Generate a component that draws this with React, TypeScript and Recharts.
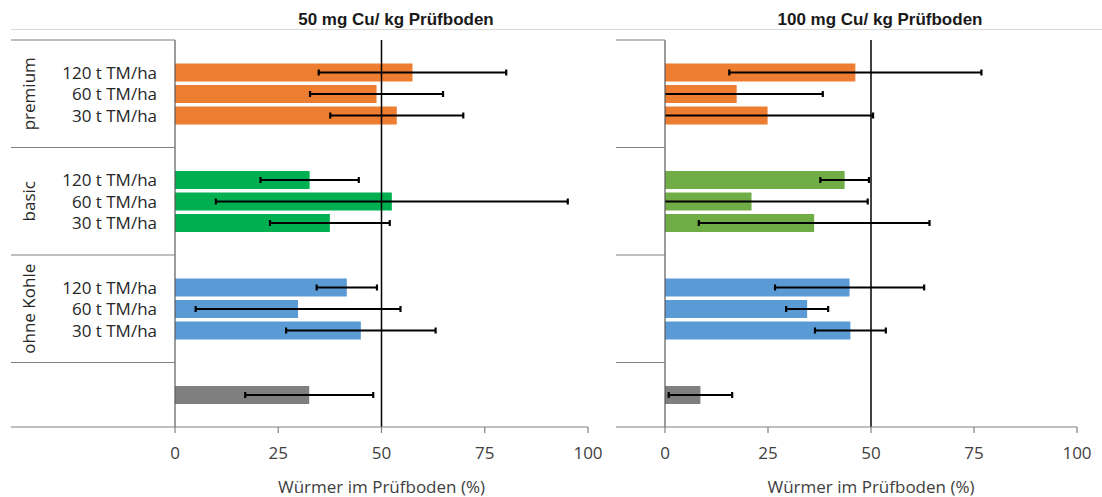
import React from "react";
import { BarChart, Bar, XAxis, YAxis, ErrorBar, ReferenceLine, Cell, Label } from "recharts";

const groups = ["premium", "basic", "ohne Kohle"];
const rates = ["120 t TM/ha", "60 t TM/ha", "30 t TM/ha"];
const xTicks = [0, 25, 50, 75, 100];

// 50 mg Cu/kg Prüfboden: Mittelwert und Streuung je Gruppe (120, 60, 30 t TM/ha)
const mean50 = [
  [57.5, 48.8, 53.7],
  [32.6, 52.5, 37.5],
  [41.6, 29.8, 45.0],
];
const err50 = [
  [22.7, 16.1, 16.1],
  [11.9, 42.6, 14.5],
  [7.3, 24.8, 18.1],
];
const control50 = 32.5;
const controlErr50 = 15.5;

// 100 mg Cu/kg Prüfboden
const mean100 = [
  [46.2, 17.4, 24.9],
  [43.6, 21.0, 36.2],
  [44.8, 34.5, 45.0],
];
const err100 = [
  [30.6, 20.9, 25.6],
  [5.9, 28.2, 28.0],
  [18.1, 5.1, 8.6],
];
const control100 = 8.6;
const controlErr100 = 7.7;

const COLORS_50 = ["#ED7D31", "#00B050", "#5B9BD5"];
const COLORS_100 = ["#ED7D31", "#70AD47", "#5B9BD5"];
const CONTROL_COLOR = "#7F7F7F";

const FONT = "'Open Sans', sans-serif";
const TOP = 40;
const HEIGHT = 497;
const XAXIS_H = 70;
const ROWS = 18;
const BAND = (HEIGHT - TOP - XAXIS_H) / ROWS;

type Row = {
  key: string;
  label: string;
  group: string;
  value: number | null;
  err: number | null;
  color: string;
  gapEnd: boolean;
  groupMid: boolean;
};

function buildRows(mean: number[][], err: number[][], ctrl: number, ctrlErr: number, colors: string[]): Row[] {
  const rows: Row[] = [];
  let n = 0;
  const gap = (end: boolean) =>
    rows.push({ key: `gap${n++}`, label: "", group: "", value: null, err: null, color: "none", gapEnd: end, groupMid: false });
  groups.forEach((g, gi) => {
    gap(false);
    rates.forEach((r, ri) => {
      rows.push({
        key: `${g}-${r}`,
        label: r,
        group: g,
        value: mean[gi][ri],
        err: err[gi][ri],
        color: colors[gi],
        gapEnd: false,
        groupMid: ri === 1,
      });
    });
    gap(true);
  });
  gap(false);
  rows.push({ key: "control", label: "", group: "", value: ctrl, err: ctrlErr, color: CONTROL_COLOR, gapEnd: false, groupMid: false });
  gap(true);
  return rows;
}

const rows50 = buildRows(mean50, err50, control50, controlErr50, COLORS_50);
const rows100 = buildRows(mean100, err100, control100, controlErr100, COLORS_100);

function GroupTick(props: any) {
  const { y, payload, index, rows, showText, boxLeft, axisX } = props;
  const row: Row = rows.find((r: Row) => r.key === payload.value);
  if (!row) return null;
  const lineStyle = { stroke: "#808080", strokeWidth: 1.2 };
  return (
    <g>
      {index === 0 && <line x1={boxLeft} x2={axisX} y1={y - BAND / 2} y2={y - BAND / 2} {...lineStyle} />}
      {row.gapEnd && <line x1={boxLeft} x2={axisX} y1={y + BAND / 2} y2={y + BAND / 2} {...lineStyle} />}
      {showText && row.label && (
        <text x={157} y={y} textAnchor="end" dominantBaseline="central" fontSize={17} fontFamily={FONT} fill="#262626">
          {row.label}
        </text>
      )}
      {showText && row.groupMid && (
        <text
          x={28}
          y={y}
          transform={`rotate(-90 28 ${y})`}
          textAnchor="middle"
          dominantBaseline="central"
          fontSize={17}
          fontFamily={FONT}
          fill="#262626"
        >
          {row.group}
        </text>
      )}
    </g>
  );
}

function Panel({ rows, width, yWidth, right, showText, boxLeft }: any) {
  return (
    <BarChart
      layout="vertical"
      width={width}
      height={HEIGHT}
      data={rows}
      margin={{ top: TOP, right, bottom: 0, left: 0 }}
      barSize={18}
    >
      <XAxis
        type="number"
        domain={[0, 100]}
        ticks={xTicks}
        allowDataOverflow
        height={XAXIS_H}
        tickSize={6}
        tickMargin={14}
        axisLine={{ stroke: "#808080", strokeWidth: 1.2 }}
        tickLine={{ stroke: "#808080", strokeWidth: 1.2 }}
        tick={{ fontSize: 17, fontFamily: FONT, fill: "#404040" }}
      >
        <Label
          value="Würmer im Prüfboden (%)"
          position="insideBottom"
          offset={4}
          style={{ fontSize: 17, fontFamily: FONT, fill: "#404040" }}
        />
      </XAxis>
      <YAxis
        type="category"
        dataKey="key"
        width={yWidth}
        interval={0}
        tickLine={false}
        axisLine={{ stroke: "#595959", strokeWidth: 1.2 }}
        tick={(p: any) => <GroupTick {...p} rows={rows} showText={showText} boxLeft={boxLeft} axisX={yWidth} />}
      />
      <ReferenceLine x={50} stroke="#000" strokeWidth={1.5} />
      <Bar dataKey="value" isAnimationActive={false}>
        {rows.map((r: Row) => (
          <Cell key={r.key} fill={r.color} />
        ))}
        <ErrorBar dataKey="err" direction="x" width={3} stroke="#000" strokeWidth={2.2} />
      </Bar>
    </BarChart>
  );
}

const titleStyle: React.CSSProperties = {
  position: "absolute",
  top: 20,
  transform: "translate(-50%, -50%)",
  whiteSpace: "nowrap",
  fontFamily: "'Liberation Sans', Arial, sans-serif",
  fontWeight: "bold",
  fontSize: 17,
  color: "#1a1a1a",
};

// error bars reaching below 0 are cut at the value axis, as in the source
const clipCss = `
#panel-50 g[class*="errorBar"] { clip-path: url(#clip50); }
#panel-100 g[class*="errorBar"] { clip-path: url(#clip100); }
`;

export default function App() {
  return (
    <div style={{ position: "absolute", left: 0, top: 0, width: 1102, height: HEIGHT, background: "#fff", overflow: "hidden" }}>
      <style>{clipCss}</style>
      <svg width={0} height={0} style={{ position: "absolute" }}>
        <defs>
          <clipPath id="clip50" clipPathUnits="userSpaceOnUse">
            <rect x={175} y={0} width={500} height={HEIGHT} />
          </clipPath>
          <clipPath id="clip100" clipPathUnits="userSpaceOnUse">
            <rect x={75} y={0} width={500} height={HEIGHT} />
          </clipPath>
        </defs>
      </svg>
      <div style={{ position: "absolute", left: 11, top: 29, width: 1091, height: 1, background: "#D9D9D9" }} />
      <div style={{ ...titleStyle, left: 396 }}>50 mg Cu/ kg Prüfboden</div>
      <div style={{ ...titleStyle, left: 880 }}>100 mg Cu/ kg Prüfboden</div>
      <div id="panel-50" style={{ position: "absolute", left: 0, top: 0 }}>
        <Panel rows={rows50} width={612} yWidth={175} right={24} showText boxLeft={11} />
      </div>
      <div id="panel-100" style={{ position: "absolute", left: 590, top: 0 }}>
        <Panel rows={rows100} width={512} yWidth={75} right={25} showText={false} boxLeft={26} />
      </div>
    </div>
  );
}
